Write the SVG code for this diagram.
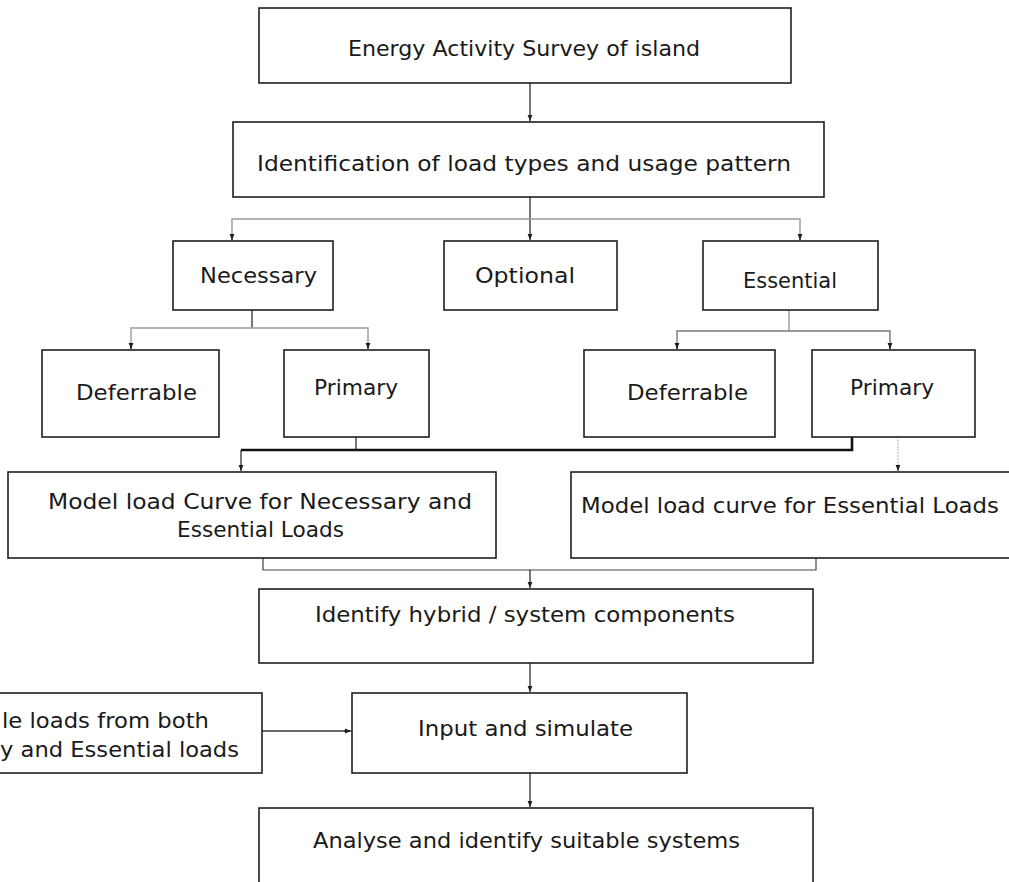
<svg xmlns="http://www.w3.org/2000/svg" width="1009" height="882" viewBox="0 0 1009 882">
<defs>
<style>
.box{fill:#fff;stroke:#1e1e1e;stroke-width:1.6}
.t{font-family:"DejaVu Sans","Liberation Sans",sans-serif;font-size:22px;fill:#1a1a1a}
.c{fill:none;stroke:#1e1e1e;stroke-width:1.2}
.g{fill:none;stroke:#9a9a9a;stroke-width:1.4}
.k{fill:none;stroke:#111;stroke-width:2.6}
.d{fill:none;stroke:#b0b0b0;stroke-width:1;stroke-dasharray:2 1}
.dbl{fill:none;stroke:#6a6a6a;stroke-width:2.2}
</style>
<marker id="arr" markerUnits="userSpaceOnUse" markerWidth="6" markerHeight="6" refX="6" refY="3" orient="auto">
<path d="M0,0.6 L6,3 L0,5.4 z" fill="#1e1e1e"/>
</marker>
</defs>
<rect width="1009" height="882" fill="#fff"/>

<g id="connectors">
<line class="c" x1="530" y1="83" x2="530" y2="121" marker-end="url(#arr)"/>
<line class="c" x1="530" y1="197" x2="530" y2="240" marker-end="url(#arr)"/>
<polyline class="g" points="232,240 232,219 800,219 800,240"/>
<line class="c" x1="232" y1="234" x2="232" y2="240" marker-end="url(#arr)"/>
<line class="c" x1="800" y1="234" x2="800" y2="240" marker-end="url(#arr)"/>
<line class="c" x1="252" y1="310" x2="252" y2="328"/>
<polyline class="g" points="131,349 131,328 368,328 368,349"/>
<line class="c" x1="131" y1="343" x2="131" y2="349" marker-end="url(#arr)"/>
<line class="c" x1="368" y1="343" x2="368" y2="349" marker-end="url(#arr)"/>
<line class="g" x1="789" y1="310" x2="789" y2="331"/>
<polyline class="g" points="677,349 677,331 890,331 890,349" style="stroke:#7a7a7a"/>
<line class="c" x1="677" y1="343" x2="677" y2="349" marker-end="url(#arr)"/>
<line class="c" x1="890" y1="343" x2="890" y2="349" marker-end="url(#arr)"/>
<line class="c" x1="356" y1="437" x2="356" y2="450"/>
<polyline class="k" points="241,450 852,450 852,437"/>
<line class="c" x1="241" y1="450" x2="241" y2="471" marker-end="url(#arr)"/>
<line class="d" x1="898" y1="437" x2="898" y2="471"/>
<line class="c" x1="898" y1="465" x2="898" y2="471" marker-end="url(#arr)" style="stroke:#777"/>
<polyline class="c" points="263,558 263,570 816,570 816,558" style="stroke:#444"/>
<line class="c" x1="530" y1="570" x2="530" y2="588" marker-end="url(#arr)"/>
<line class="c" x1="530" y1="663" x2="530" y2="692" marker-end="url(#arr)"/>
<line class="dbl" x1="262" y1="731" x2="350" y2="731"/>
<line class="c" x1="344" y1="731" x2="351" y2="731" marker-end="url(#arr)"/>
<line class="c" x1="530" y1="773" x2="530" y2="807" marker-end="url(#arr)"/>
</g>

<g id="n-survey">
<rect class="box" x="259" y="8" width="532" height="75"/>
<text class="t" x="348" y="56" font-size="21" textLength="352" lengthAdjust="spacingAndGlyphs">Energy Activity Survey of island</text>
</g>
<g id="n-identification">
<rect class="box" x="233" y="122" width="591" height="75"/>
<text class="t" x="257" y="171" textLength="534" lengthAdjust="spacingAndGlyphs">Identification of load types and usage pattern</text>
</g>
<g id="n-necessary">
<rect class="box" x="173" y="241" width="160" height="69"/>
<text class="t" x="200" y="283" textLength="117" lengthAdjust="spacingAndGlyphs">Necessary</text>
</g>
<g id="n-optional">
<rect class="box" x="444" y="241" width="173" height="69"/>
<text class="t" x="475" y="283" textLength="100" lengthAdjust="spacingAndGlyphs">Optional</text>
</g>
<g id="n-essential">
<rect class="box" x="703" y="241" width="175" height="69"/>
<text class="t" x="743" y="288" textLength="94" lengthAdjust="spacingAndGlyphs">Essential</text>
</g>
<g id="n-deferrable-necessary">
<rect class="box" x="42" y="350" width="177" height="87"/>
<text class="t" x="76" y="400" textLength="121" lengthAdjust="spacingAndGlyphs">Deferrable</text>
</g>
<g id="n-primary-necessary">
<rect class="box" x="284" y="350" width="145" height="87"/>
<text class="t" x="314" y="395" textLength="84" lengthAdjust="spacingAndGlyphs">Primary</text>
</g>
<g id="n-deferrable-essential">
<rect class="box" x="584" y="350" width="191" height="87"/>
<text class="t" x="627" y="400" textLength="121" lengthAdjust="spacingAndGlyphs">Deferrable</text>
</g>
<g id="n-primary-essential">
<rect class="box" x="812" y="350" width="163" height="87"/>
<text class="t" x="850" y="395" textLength="84" lengthAdjust="spacingAndGlyphs">Primary</text>
</g>
<g id="n-model-necessary-essential">
<rect class="box" x="8" y="472" width="488" height="86"/>
<text class="t" x="48" y="509" textLength="424" lengthAdjust="spacingAndGlyphs">Model load Curve for Necessary and</text>
<text class="t" x="177" y="537" textLength="167" lengthAdjust="spacingAndGlyphs">Essential Loads</text>
</g>
<g id="n-model-essential">
<rect class="box" x="571" y="472" width="450" height="86"/>
<text class="t" x="581" y="513" textLength="418" lengthAdjust="spacingAndGlyphs">Model load curve for Essential Loads</text>
</g>
<g id="n-hybrid">
<rect class="box" x="259" y="589" width="554" height="74"/>
<text class="t" x="315" y="622" textLength="420" lengthAdjust="spacingAndGlyphs">Identify hybrid / system components</text>
</g>
<g id="n-deferrable-loads">
<rect class="box" x="-6" y="693" width="268" height="80"/>
<text class="t" x="2" y="728" textLength="207" lengthAdjust="spacingAndGlyphs">le loads from both</text>
<text class="t" x="0" y="757" textLength="239" lengthAdjust="spacingAndGlyphs">y and Essential loads</text>
</g>
<g id="n-input">
<rect class="box" x="352" y="693" width="335" height="80"/>
<text class="t" x="418" y="736" textLength="215" lengthAdjust="spacingAndGlyphs">Input and simulate</text>
</g>
<g id="n-analyse">
<rect class="box" x="259" y="808" width="554" height="90"/>
<text class="t" x="313" y="848" textLength="427" lengthAdjust="spacingAndGlyphs">Analyse and identify suitable systems</text>
</g>
</svg>
